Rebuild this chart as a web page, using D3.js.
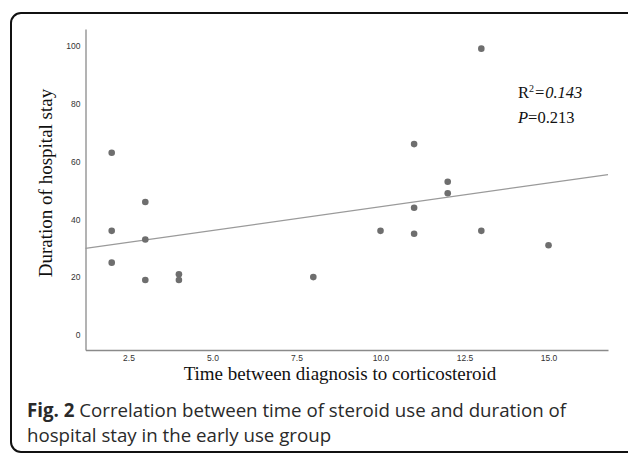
<!DOCTYPE html>
<html>
<head>
<meta charset="utf-8">
<script src="https://cdn.jsdelivr.net/npm/d3@7"></script>
<style>
  body { margin: 0; background: #fff; }
  svg { display: block; }
</style>
</head>
<body>
<div id="chart"></div>
<script>
// données
const timeToSteroid = [2, 2, 2, 3, 3, 3, 4, 4, 8, 10, 11, 11, 11, 12, 12, 13, 13, 15];
const hospitalStay  = [63, 36, 25, 46, 33, 19, 21, 19, 20, 36, 66, 44, 35, 53, 49, 99, 36, 31];
const xTicks = [2.5, 5.0, 7.5, 10.0, 12.5, 15.0];
const yTicks = [0, 20, 40, 60, 80, 100];
const statR2 = "0.143";
const statP = "0.213";

const W = 628, H = 453;
const svg = d3.select("#chart").append("svg")
    .attr("width", W)
    .attr("height", H);

// cadre arrondi
svg.append("rect")
    .attr("x", 11).attr("y", 13)
    .attr("width", 640).attr("height", 439)
    .attr("rx", 10)
    .attr("fill", "none")
    .attr("stroke", "#111")
    .attr("stroke-width", 2);

const x = d3.scaleLinear().domain([1.22, 16.77]).range([85.5, 608]);
const y = d3.scaleLinear().domain([-5.2, 105.8]).range([350, 29]);

// axes
const xAxis = svg.append("g")
    .attr("transform", "translate(0,350)")
    .call(d3.axisBottom(x).tickValues(xTicks).tickSize(0).tickPadding(5).tickFormat(d3.format(".1f")));
const yAxis = svg.append("g")
    .attr("transform", "translate(85.5,0)")
    .call(d3.axisLeft(y).tickValues(yTicks).tickSize(0).tickPadding(5));

[xAxis, yAxis].forEach(g => {
    g.select(".domain").attr("stroke", "#8a8a8a").attr("stroke-width", 1.3);
    g.selectAll("text")
        .attr("font-family", "Liberation Sans, Arial, sans-serif")
        .attr("font-size", 8.5)
        .attr("fill", "#333");
});

// droite de régression (moindres carrés)
const n = timeToSteroid.length;
const mx = d3.mean(timeToSteroid), my = d3.mean(hospitalStay);
let sxy = 0, sxx = 0;
for (let i = 0; i < n; i++) {
    sxy += (timeToSteroid[i] - mx) * (hospitalStay[i] - my);
    sxx += (timeToSteroid[i] - mx) ** 2;
}
const slope = sxy / sxx, intercept = my - slope * mx;
const [x0, x1] = x.domain();
svg.append("line")
    .attr("x1", x(x0)).attr("y1", y(intercept + slope * x0))
    .attr("x2", x(x1)).attr("y2", y(intercept + slope * x1))
    .attr("stroke", "#9a9a9a")
    .attr("stroke-width", 1.2);

// points
svg.append("g").selectAll("circle")
    .data(timeToSteroid.map((t, i) => ({ t, d: hospitalStay[i] })))
    .join("circle")
    .attr("cx", d => x(d.t))
    .attr("cy", d => y(d.d))
    .attr("r", 3.3)
    .attr("fill", "#6e6e6e");

// titres des axes
svg.append("text")
    .attr("x", 340).attr("y", 380)
    .attr("text-anchor", "middle")
    .attr("font-family", "Liberation Serif, Times New Roman, serif")
    .attr("font-size", 19)
    .attr("fill", "#111")
    .text("Time between diagnosis to corticosteroid");

svg.append("text")
    .attr("transform", "translate(51.5,183) rotate(-90)")
    .attr("text-anchor", "middle")
    .attr("font-family", "Liberation Serif, Times New Roman, serif")
    .attr("font-size", 19)
    .attr("fill", "#111")
    .text("Duration of hospital stay");

// annotation R² / P
const ann = svg.append("g")
    .attr("font-family", "Liberation Serif, Times New Roman, serif")
    .attr("font-size", 16.5)
    .attr("fill", "#111");
const t1 = ann.append("text").attr("x", 518).attr("y", 98);
t1.append("tspan").text("R");
t1.append("tspan").attr("font-size", 10).attr("dy", -6).text("2");
t1.append("tspan").attr("dy", 6).attr("font-style", "italic").text("=" + statR2);
const t2 = ann.append("text").attr("x", 518).attr("y", 123);
t2.append("tspan").attr("font-style", "italic").text("P");
t2.append("tspan").text("=" + statP);

// légende de la figure
const cap = svg.append("g")
    .attr("font-family", "Open Sans, Noto Sans, sans-serif")
    .attr("font-size", 18.7)
    .attr("fill", "#2a2a2a");
const c1 = cap.append("text").attr("x", 27).attr("y", 417);
c1.append("tspan").attr("font-weight", "bold").text("Fig. 2");
c1.append("tspan").text(" Correlation between time of steroid use and duration of");
cap.append("text").attr("x", 27).attr("y", 442)
    .text("hospital stay in the early use group");
</script>
</body>
</html>
